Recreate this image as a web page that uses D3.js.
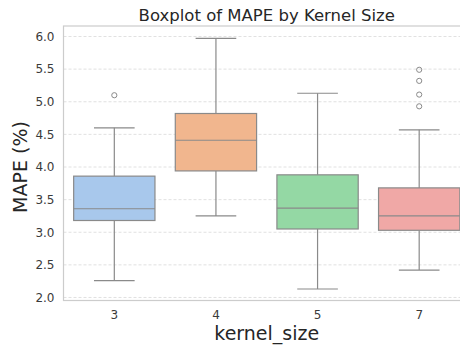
<!DOCTYPE html>
<html>
<head>
<meta charset="utf-8">
<script src="https://cdn.jsdelivr.net/npm/d3@7"></script>
<style>
  html, body { margin: 0; padding: 0; background: #fff; }
  svg { display: block; font-family: "DejaVu Sans", sans-serif; }
</style>
</head>
<body>
<svg id="chart" width="460" height="346"></svg>
<script>
// Kernel sizes on the x axis
const categories = ["3", "4", "5", "7"];
// Box summary per kernel size (MAPE %)
const whiskerLow  = [2.26, 3.25, 2.13, 2.42];
const q1          = [3.18, 3.94, 3.05, 3.03];
const medians     = [3.36, 4.41, 3.37, 3.25];
const q3          = [3.86, 4.82, 3.88, 3.68];
const whiskerHigh = [4.60, 5.97, 5.13, 4.57];
// Points beyond the whiskers
const outliers = [[5.10], [], [], [5.49, 5.32, 5.11, 4.93]];
const boxColors = ["#a8c8ec", "#f1b68e", "#94d8a4", "#f0a8a6"];
const yTicks = [2.0, 2.5, 3.0, 3.5, 4.0, 4.5, 5.0, 5.5, 6.0];

const svg = d3.select("#chart");
const plot = { left: 63.5, right: 470, top: 26, bottom: 300.5 };

const x = d3.scaleBand().domain(categories).range([plot.left, plot.right]).paddingInner(0).paddingOuter(0);
const y = d3.scaleLinear().domain([1.954, 6.161]).range([plot.bottom, plot.top]);

const lineColor = "#8a8a8a";

// Grid lines
svg.append("g").selectAll("line").data(yTicks).join("line")
  .attr("x1", plot.left).attr("x2", plot.right)
  .attr("y1", d => y(d)).attr("y2", d => y(d))
  .attr("stroke", "#d9d9d9").attr("stroke-width", 0.8)
  .attr("stroke-dasharray", "3,2");

// Frame
svg.append("rect")
  .attr("x", plot.left).attr("y", plot.top)
  .attr("width", plot.right - plot.left).attr("height", plot.bottom - plot.top)
  .attr("fill", "none").attr("stroke", "#cccccc").attr("stroke-width", 1.2);

// Y axis labels
const yAxis = d3.axisLeft(y).tickValues(yTicks).tickFormat(d3.format(".1f")).tickSize(0).tickPadding(9);
const gy = svg.append("g").attr("transform", `translate(${plot.left},0)`).call(yAxis);
gy.select(".domain").remove();
gy.selectAll("text").attr("font-size", 12).attr("fill", "#3a3a3a").attr("font-family", "DejaVu Sans, sans-serif");

// X axis labels
const xAxis = d3.axisBottom(x).tickSize(0).tickPadding(10);
const gx = svg.append("g").attr("transform", `translate(0,${plot.bottom})`).call(xAxis);
gx.select(".domain").remove();
gx.selectAll("text").attr("font-size", 12).attr("fill", "#3a3a3a").attr("font-family", "DejaVu Sans, sans-serif");

// Boxes
const bw = x.bandwidth() * 0.8;
const capW = bw / 2;
const g = svg.append("g");
categories.forEach((c, i) => {
  const cx = x(c) + x.bandwidth() / 2;
  const grp = g.append("g");
  // whiskers
  grp.append("line").attr("x1", cx).attr("x2", cx)
    .attr("y1", y(q3[i])).attr("y2", y(whiskerHigh[i]))
    .attr("stroke", lineColor).attr("stroke-width", 1.2);
  grp.append("line").attr("x1", cx).attr("x2", cx)
    .attr("y1", y(q1[i])).attr("y2", y(whiskerLow[i]))
    .attr("stroke", lineColor).attr("stroke-width", 1.2);
  // caps
  [whiskerHigh[i], whiskerLow[i]].forEach(v => {
    grp.append("line").attr("x1", cx - capW / 2).attr("x2", cx + capW / 2)
      .attr("y1", y(v)).attr("y2", y(v))
      .attr("stroke", lineColor).attr("stroke-width", 1.2);
  });
  // box
  grp.append("rect")
    .attr("x", cx - bw / 2).attr("width", bw)
    .attr("y", y(q3[i])).attr("height", y(q1[i]) - y(q3[i]))
    .attr("fill", boxColors[i]).attr("stroke", lineColor).attr("stroke-width", 1.2);
  // median
  grp.append("line").attr("x1", cx - bw / 2).attr("x2", cx + bw / 2)
    .attr("y1", y(medians[i])).attr("y2", y(medians[i]))
    .attr("stroke", lineColor).attr("stroke-width", 1.2);
  // outliers
  grp.selectAll("circle").data(outliers[i]).join("circle")
    .attr("cx", cx).attr("cy", d => y(d)).attr("r", 2.6)
    .attr("fill", "none").attr("stroke", lineColor).attr("stroke-width", 1);
});

// Title and axis titles
svg.append("text").attr("x", (plot.left + plot.right) / 2).attr("y", 20.5)
  .attr("text-anchor", "middle").attr("font-size", 16.5).attr("fill", "#262626")
  .text("Boxplot of MAPE by Kernel Size");
svg.append("text")
  .attr("transform", `translate(27,167) rotate(-90)`)
  .attr("text-anchor", "middle").attr("font-size", 19).attr("fill", "#262626")
  .text("MAPE (%)");
svg.append("text").attr("x", (plot.left + plot.right) / 2).attr("y", 340)
  .attr("text-anchor", "middle").attr("font-size", 19).attr("fill", "#262626")
  .text("kernel_size");
</script>
</body>
</html>
